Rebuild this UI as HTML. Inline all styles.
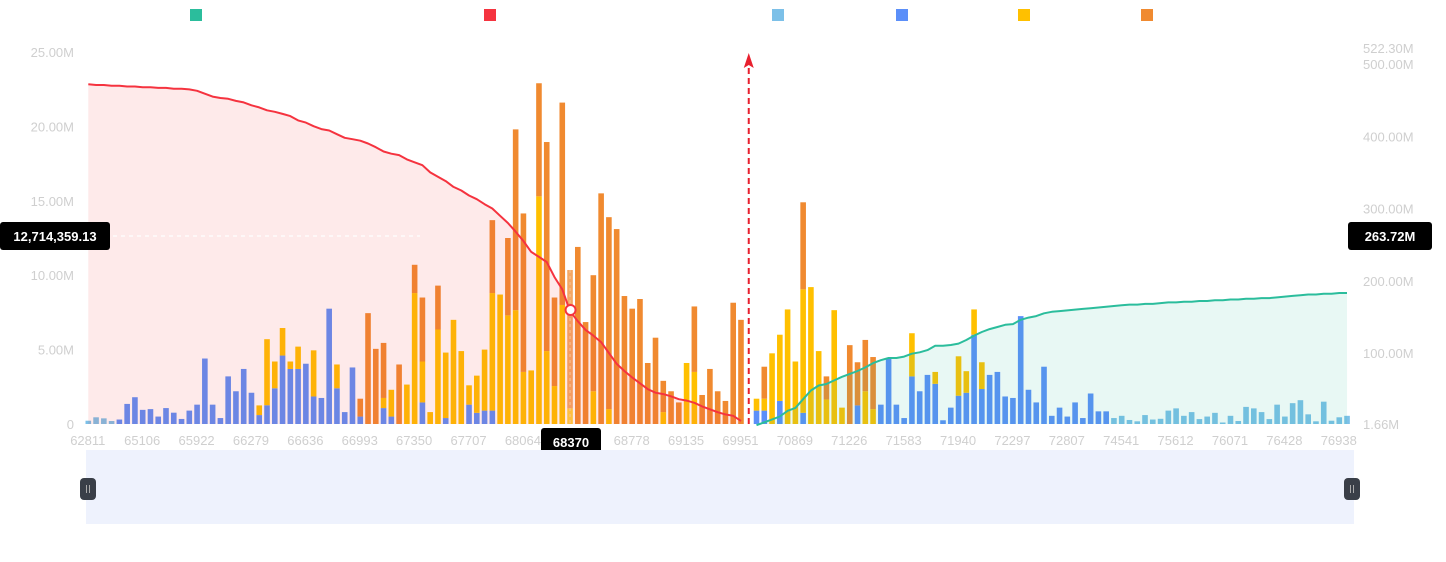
<!DOCTYPE html>
<html><head><meta charset="utf-8"><style>
html,body{margin:0;padding:0;background:#fff;width:1446px;height:562px;overflow:hidden}
svg{display:block;font-family:"Liberation Sans",sans-serif}
.ax{fill:#cfcfcf;font-size:13px}
</style></head><body>
<svg id="chart" width="1446" height="562">
</svg>
<script>
const tickLabels=["62811","65106","65922","66279","66636","66993","67350","67707","68064","68421","68778","69135","69951","70869","71226","71583","71940","72297","72807","74541","75612","76071","76428","76938"];
const leftTicks=[0,5,10,15,20,25];
const rightTicks=[1.66,100,200,300,400,500,522.30];
const lightBlue=[.22,.45,.38,.2].concat(new Array(128).fill(0)).concat([.4,.55,.27,.18,.6,.3,.35,.9,1.05,.55,.8,.33,.5,.75,.1,.55,.2,1.15,1.05,.8,.33,1.3,.5,1.4,1.6,.65,.18,1.5,.22,.45,.55]);
const blue=[0,0,0,0,.3,1.35,1.8,.95,1.0,.5, 1.07,.76,.34,.9,1.3,4.4,1.3,.4,3.2,2.2, 3.7,2.1,.6,1.26,2.4,4.6,3.7,3.7,4.05,1.85, 1.75,7.75,2.4,.8,3.8,.5,0,0,1.07,.5, 0,0,0,1.45,0,0,.4,0,0,1.3, .75,.9,.9,0,0,0,0,0,0,0, 0,0,0,0,0,0,0,0,0,0, 0,0,0,0,0,0,0,0,0,0, 0,0,0,0,0,0,.9,.9,0,1.55, 0,0,.75,0,0,0,0,0,0,1.25, 0,0,1.3,4.4,1.3,.4,3.2,2.2,3.3,2.7, .25,1.1,1.9,2.1,6.0,2.35,3.3,3.5,1.85,1.75, 7.25,2.3,1.45,3.85,.55,1.1,.5,1.45,.4,2.05, .85,.85].concat(new Array(31).fill(0));
const yellow=[0,0,0,0,0,0,0,0,0,0, 0,0,0,0,0,0,0,0,0,0, 0,0,.65,4.44,1.8,1.85,.5,1.5,0,3.1, 0,0,1.6,0,0,0,0,0,.68,1.8, 0,2.65,8.8,2.75,.8,6.35,4.4,7.0,4.9,1.3, 2.5,4.1,7.9,8.7,7.3,7.65,3.5,3.6,15.3,4.9, 2.55,8.0,1.05,0,0,2.2,0,1.0,0,0, 0,0,0,0,.8,0,0,4.1,3.5,0, 0,0,0,0,0,0,.8,.8,4.75,4.45, 7.7,4.2,8.3,9.2,4.9,1.65,7.65,1.1,0,0, 2.2,1.0,0,0,0,0,2.9,0,0,.8, 0,0,2.65,1.45,1.7,1.8,0,0,0,0].concat(new Array(43).fill(0));
const orange=new Array(30).fill(0).concat([0,0,0,0,0,1.2,7.45,5.05,3.7,0, 4.0,0,1.9,4.3,0,2.95,0,0,0,0, 0,0,4.9,0,5.2,12.15,10.65,0,7.6,14.05, 5.95,13.6,9.3,11.9,6.85,7.8,15.5,12.9,13.1,8.6, 7.75,8.4,4.1,5.8,2.1,2.2,1.45,0,4.4,1.95, 3.7,2.2,1.55,8.15,7.0,0,0,2.15,0,0, 0,0,5.85,0,0,1.55,0,0,5.3,2.9, 3.45,3.5]).concat(new Array(61).fill(0));
const bidDepth=[472,471,471,470,470,469,469,468,468,467,467,466,466,465,463,459,455,453,452,449,447,443,440,436,434,431,428,422,419,414,410,408,403,398,396,394,390,385,379,376,374,368,364,360,350,344,338,330,325,318,313,306,300,290,280,268,255,240,233,226,205,188,158,144,132,124,115,100,85,75,66,58,50,45,43,40,36,34,31,26,22,18,15,13,6];
const askDepth=[0,4,8,12,20,24,36,48,55,57,62,67,71,75,80,86,90,93,93,95,99,101,104,110,110,111,113,118,124,129,133,136,139,140,146,149,151,155,157,158,159,160,161,162,163,164,165,166,167,167,168,168,169,170,170,171,171,172,172,173,173,174,174,175,175,176,176,177,178,179,180,181,181,182,182,183,183];
const askStart=86, highlight=62, midSlot=85;

const NS="http://www.w3.org/2000/svg";
const svg=document.getElementById('chart');
function el(t,a,p){const e=document.createElementNS(NS,t);for(const k in a)e.setAttribute(k,a[k]);(p||svg).appendChild(e);return e;}
const X0=88.3, STEP=7.77, BASE=424;
const xs=i=>X0+i*STEP;
const yL=v=>BASE-v*14.88;
const yR=v=>BASE-(v-1.66)*0.7222;

// legend
const legCols=["#2bbd9c","#f5333f","#7cc0e8","#5b8ff9","#ffc000","#f08a30"];
const legX=[190,484,772,896,1018,1141];
legCols.forEach((c,i)=>{const r=el('rect',{x:legX[i],y:9,width:12,height:12,fill:c});

});

// bars
const segs=[lightBlue,blue,yellow,orange];
const segCols=["#7cc0e8","#5b8ff9","#ffc000","#f08a30"];
for(let i=0;i<lightBlue.length;i++){
  let acc=0;
  segs.forEach((arr,s)=>{
    const v=arr[i]||0; if(v<=0)return;
    const y1=yL(acc), y2=yL(acc+v);
    const r=el('rect',{x:xs(i)-2.8,y:y2,width:5.6,height:y1-y2,fill:segCols[s],opacity:i===highlight?0.75:1});
    
    
    acc+=v;
  });
}
// bid area & line
let bp=bidDepth.map((v,i)=>[xs(i),yR(v)]);
let d='M'+bp.map(p=>p[0].toFixed(1)+','+p[1].toFixed(1)).join('L');
const ba=el('path',{d:d+`L${xs(bidDepth.length-1)},${BASE}L${xs(0)},${BASE}Z`,fill:"rgba(250,60,60,0.11)"});


// dashed crosshair
const hl=el('line',{x1:89,x2:420,y1:236,y2:236,stroke:"#fff",'stroke-width':1.2,'stroke-dasharray':'4,4'});


const vl=el('line',{x1:xs(highlight),x2:xs(highlight),y1:270,y2:BASE,stroke:"#f8c89a",'stroke-width':1,'stroke-dasharray':'3,3'});


const bl=el('path',{d:d,fill:"none",stroke:"#f5333f",'stroke-width':2,'stroke-linejoin':'round'});


// ask
let ap=askDepth.map((v,k)=>[xs(askStart+k),yR(v)]);
let d2='M'+ap.map(p=>p[0].toFixed(1)+','+p[1].toFixed(1)).join('L');
const aa=el('path',{d:d2+`L${ap[ap.length-1][0]},${BASE}L${ap[0][0]},${BASE}Z`,fill:"rgba(43,189,156,0.11)"});


const al=el('path',{d:d2,fill:"none",stroke:"#2bbd9c",'stroke-width':2,'stroke-linejoin':'round'});


// mid price arrow
const mx=xs(midSlot);
const ml=el('line',{x1:mx,x2:mx,y1:BASE,y2:62,stroke:"#e8202e",'stroke-width':2,'stroke-dasharray':'6,4'});


const mh=el('path',{d:`M${mx-5},68L${mx},53L${mx+5},68L${mx},65Z`,fill:"#e8202e"});


// point
const pt=el('circle',{cx:xs(highlight)+0.5,cy:310,r:5,fill:"#fff",stroke:"#f5333f",'stroke-width':2});



// axes labels
leftTicks.forEach(v=>{const t=el('text',{x:74,y:yL(v)+5,'text-anchor':'end',class:'ax'});t.textContent=v===0?'0':v.toFixed(2)+'M';

});
rightTicks.forEach(v=>{const t=el('text',{x:1363,y:yR(v)+5,class:'ax'});t.textContent=v.toFixed(2)+'M';

});
tickLabels.forEach((s,k)=>{if(k===9)return;const t=el('text',{x:xs(k*7)-0.5,y:445,'text-anchor':'middle',class:'ax'});t.textContent=s;

});

// tooltips
function tip(x,y,w,h,txt,name){const g=el('g',{});
el('rect',{x:x,y:y,width:w,height:h,rx:3,fill:"#000"},g);
const t=el('text',{x:x+w/2,y:y+h/2+5,'text-anchor':'middle',fill:"#fff",'font-size':'13px','font-weight':'bold'},g);t.textContent=txt;}
tip(0,222,110,28,"12,714,359.13","left-axis-pointer");
tip(1348,222,84,28,"263.72M","right-axis-pointer");
tip(541,428,60,28,"68370","x-axis-pointer");

// data zoom
const dz=el('rect',{x:86,y:450,width:1268,height:74,fill:"#eef2fd"});


[88,1352].forEach(hx=>{const g=el('g',{});
el('rect',{x:hx-8,y:478,width:16,height:22,rx:4,fill:"#3a3f48"},g);
el('line',{x1:hx-1.5,x2:hx-1.5,y1:485,y2:493,stroke:"#aaa",'stroke-width':1},g);
el('line',{x1:hx+1.5,x2:hx+1.5,y1:485,y2:493,stroke:"#aaa",'stroke-width':1},g);});
</script>
</body></html>
